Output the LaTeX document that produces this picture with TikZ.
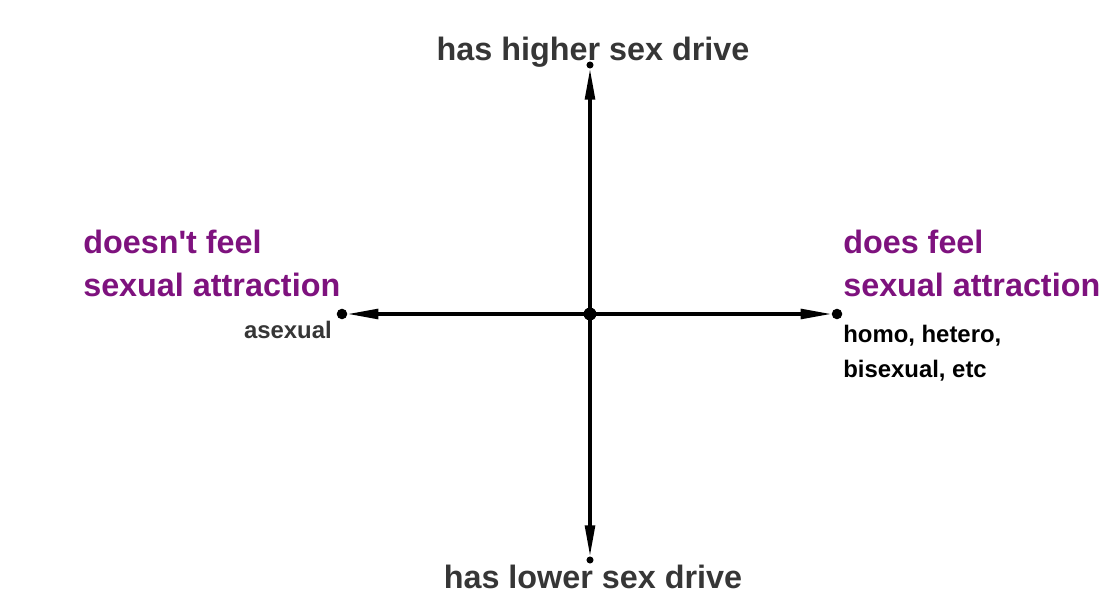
\documentclass[tikz,border=0pt]{standalone}
\usepackage{fontspec}
\setmainfont{Liberation Sans}
\usepackage{tikz}
\usetikzlibrary{arrows.meta}

\definecolor{attrpurple}{HTML}{7E127E}
\definecolor{drivegray}{HTML}{363636}

\tikzset{
	dot/.style={circle,fill=black,inner sep=0pt,minimum size=7.5pt},
	axis/.style={line width=2.3pt,-{Triangle[length=22pt,width=7pt]}},
	biglabel/.style={inner sep=0pt,font=\fontsize{23}{27}\selectfont\bfseries},
	smalllabel/.style={inner sep=0pt,font=\fontsize{17}{20}\selectfont\bfseries}
}

\begin{document}
\begin{tikzpicture}[
				x=0.025cm,
				y=-0.025cm,
				line cap=round,
				line join=round
				]
				\useasboundingbox (0,0) rectangle (1100,597);
				
				% Axes
				\node[dot,minimum size=9pt] (O) at (590,314) {};
				\node[dot,minimum size=5pt] (Top) at (590,65) {};
				\node[dot,minimum size=5pt] (Bottom) at (590,560) {};
				\node[dot] (Left) at (342,314) {};
				\node[dot] (Right) at (837,314) {};
				\draw[axis] (O.center) -- (Top);
				\draw[axis] (O.center) -- (Bottom);
				\draw[axis] (O.center) -- (Left);
				\draw[axis] (O.center) -- (Right);
				\fill (O) circle[radius=4.5pt];
				
				% Sex drive
				\node[biglabel,text=drivegray,anchor=base] (high) at (593,61) {has higher sex drive};
				\node[biglabel,text=drivegray,anchor=base] (low) at (593,588) {has lower sex drive};
				
				% Attraction, left side
				\node[biglabel,text=attrpurple,anchor=base west] (nofeel) at (83,253) {doesn\textquotesingle t feel};
				\node[biglabel,text=attrpurple,anchor=base west] (noattr) at (83,297) {sexual attraction};
				\node[smalllabel,text=drivegray,anchor=base east] (ace) at (332,339) {asexual};
				
				% Attraction, right side
				\node[biglabel,text=attrpurple,anchor=base west] (feel) at (843,253) {does feel};
				\node[biglabel,text=attrpurple,anchor=base west] (attr) at (843,297) {sexual attraction};
				\node[smalllabel,anchor=base west] (orient) at (843,342) {homo, hetero,};
				\node[smalllabel,anchor=base west] (orient2) at (843,377) {bisexual, etc};
			\end{tikzpicture}
\end{document}
